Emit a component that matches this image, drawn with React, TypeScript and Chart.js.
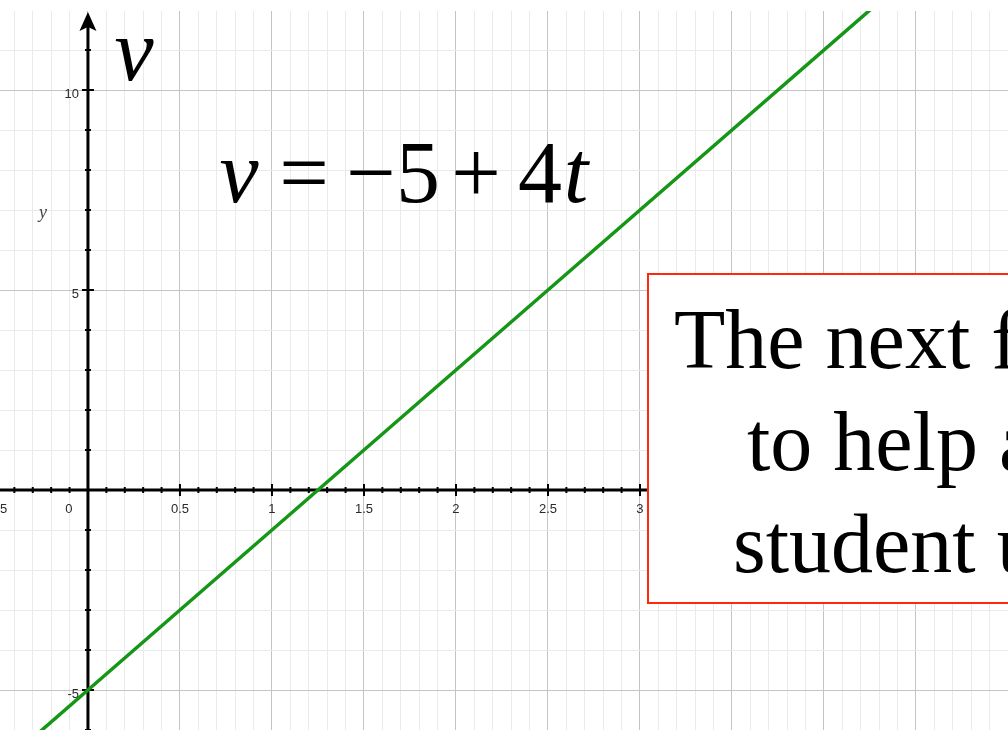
import { useEffect, useRef } from 'react';
import { Chart, registerables } from 'chart.js';

Chart.register(...registerables);

// Visible window of the t–v plane
const X_MIN = -0.478;
const X_MAX = 5.0;
const Y_MIN = -6.0;
const Y_MAX = 11.975;

// v = -5 + 4t, sampled at a few instants
const timeValues = [-0.5, 0, 1.25, 2.5, 4.5];
const velocityValues = [-7, -5, 0, 5, 13];

// Axis labels
const xLabelValues = [-0.5, 0, 0.5, 1, 1.5, 2, 2.5, 3, 3.5, 4, 4.5];
const xLabelTexts = ['-0.5', '0', '0.5', '1', '1.5', '2', '2.5', '3', '3.5', '4', '4.5'];
const yLabelValues = [-5, 5, 10];
const yLabelTexts = ['-5', '5', '10'];

// Graph-paper spacing
const X_MINOR = 0.1;
const X_MAJOR = 0.5;
const Y_MINOR = 1;
const Y_MAJOR = 5;

const noteLines = ['The next f', 'to help a', 'student u'];

const GRID_MINOR = 'rgb(234,234,234)';
const GRID_MAJOR = 'rgb(196,196,196)';
const LINE_GREEN = 'rgb(22,150,22)';
const BOX_RED = 'rgb(255,40,10)';

function stepValues(min: number, max: number, step: number): number[] {
  const out: number[] = [];
  const start = Math.ceil(min / step - 1e-9);
  const end = Math.floor(max / step + 1e-9);
  for (let i = start; i <= end; i++) out.push(Math.round(i * step * 1000) / 1000);
  return out;
}

function isMultiple(v: number, step: number): boolean {
  const r = v / step;
  return Math.abs(r - Math.round(r)) < 1e-6;
}

const overlay = {
  id: 'overlay',
  beforeDatasetsDraw(chart: any) {
    const { ctx, chartArea, scales } = chart;
    const xs = scales.x;
    const ys = scales.y;
    const x0 = xs.getPixelForValue(0);
    const y0 = ys.getPixelForValue(0);
    ctx.save();
    ctx.strokeStyle = '#000';
    ctx.fillStyle = '#000';

    // axes
    ctx.lineWidth = 3;
    ctx.beginPath();
    ctx.moveTo(chartArea.left, y0);
    ctx.lineTo(chartArea.right, y0);
    ctx.stroke();
    ctx.beginPath();
    ctx.moveTo(x0, chartArea.bottom);
    ctx.lineTo(x0, chartArea.top + 14);
    ctx.stroke();

    // arrowhead on the v axis
    const tipY = chartArea.top + 1;
    ctx.beginPath();
    ctx.moveTo(x0, tipY);
    ctx.lineTo(x0 + 8.5, tipY + 19);
    ctx.lineTo(x0, tipY + 15);
    ctx.lineTo(x0 - 8.5, tipY + 19);
    ctx.closePath();
    ctx.fill();

    // tick marks
    ctx.lineWidth = 2;
    for (const v of stepValues(X_MIN, X_MAX, X_MINOR)) {
      if (Math.abs(v) < 1e-9) continue;
      const px = xs.getPixelForValue(v);
      const len = isMultiple(v, X_MAJOR) ? 6 : 3;
      ctx.beginPath();
      ctx.moveTo(px, y0 - len);
      ctx.lineTo(px, y0 + len);
      ctx.stroke();
    }
    for (const v of stepValues(Y_MIN, Y_MAX, Y_MINOR)) {
      if (Math.abs(v) < 1e-9) continue;
      const py = ys.getPixelForValue(v);
      const len = isMultiple(v, Y_MAJOR) ? 6 : 3;
      ctx.beginPath();
      ctx.moveTo(x0 - len, py);
      ctx.lineTo(x0 + len, py);
      ctx.stroke();
    }

    // tick labels
    ctx.fillStyle = '#2a2a2a';
    ctx.font = '13px "Liberation Sans", Arial, sans-serif';
    ctx.textBaseline = 'middle';
    ctx.textAlign = 'center';
    xLabelValues.forEach((v, i) => {
      const px = xs.getPixelForValue(v) - (v === 0 ? 19 : 0);
      ctx.fillText(xLabelTexts[i], px, y0 + 19);
    });
    ctx.textAlign = 'right';
    yLabelValues.forEach((v, i) => {
      ctx.fillText(yLabelTexts[i], x0 - 9, ys.getPixelForValue(v) + 4);
    });

    // axis name
    ctx.fillStyle = '#444';
    ctx.font = 'italic 18px "Liberation Serif", serif';
    ctx.textAlign = 'center';
    ctx.fillText('y', 43, 213);
    ctx.restore();
  },
  afterDraw(chart: any) {
    const { ctx } = chart;
    ctx.save();
    ctx.fillStyle = '#000';
    ctx.textBaseline = 'alphabetic';
    ctx.textAlign = 'center';

    const italic = 'italic 88px "Liberation Serif", "Times New Roman", serif';
    const upright = '88px "Liberation Serif", "Times New Roman", serif';

    // axis title
    ctx.font = italic;
    ctx.fillText('v', 134, 80);

    // equation of the line
    const pieces: [string, boolean, number][] = [
      ['v', true, 239],
      ['=', false, 304],
      ['\u2212', false, 371],
      ['5', false, 418],
      ['+', false, 476],
      ['4', false, 540],
      ['t', true, 576],
    ];
    for (const [s, it, cx] of pieces) {
      ctx.font = it ? italic : upright;
      ctx.fillText(s, cx, 202);
    }

    // note box
    ctx.fillStyle = '#fff';
    ctx.fillRect(648, 274, 420, 329);
    ctx.strokeStyle = BOX_RED;
    ctx.lineWidth = 2;
    ctx.strokeRect(648, 274, 420, 329);
    ctx.fillStyle = '#000';
    ctx.textAlign = 'left';
    ctx.font = '84px "Liberation Serif", "Times New Roman", serif';
    const starts = [674, 747, 733];
    const baselines = [368, 470, 572];
    noteLines.forEach((line, i) => ctx.fillText(line, starts[i], baselines[i]));
    ctx.restore();
  },
};

export default function App() {
  const canvasRef = useRef<HTMLCanvasElement | null>(null);

  useEffect(() => {
    document.body.style.margin = '0';
    const canvas = canvasRef.current;
    if (!canvas) return;
    const points = timeValues.map((t, i) => ({ x: t, y: velocityValues[i] }));

    const chart = new Chart(canvas, {
      type: 'scatter',
      data: {
        datasets: [
          {
            data: points,
            showLine: true,
            borderColor: LINE_GREEN,
            backgroundColor: LINE_GREEN,
            borderWidth: 3.5,
            pointRadius: 0,
            clip: 0,
          } as any,
        ],
      },
      options: {
        animation: false,
        responsive: false,
        devicePixelRatio: 1,
        events: [],
        layout: { padding: { top: 11, left: 0, right: 0, bottom: 0 } },
        plugins: { legend: { display: false }, tooltip: { enabled: false } },
        scales: {
          x: {
            type: 'linear',
            min: X_MIN,
            max: X_MAX,
            bounds: 'data',
            border: { display: false },
            ticks: { display: false },
            grid: {
              drawTicks: false,
              lineWidth: 1,
              color: (c: any) =>
                c.tick && isMultiple(c.tick.value, X_MAJOR) ? GRID_MAJOR : GRID_MINOR,
            },
            afterBuildTicks: (scale: any) => {
              scale.ticks = stepValues(X_MIN, X_MAX, X_MINOR).map((value) => ({ value }));
            },
          },
          y: {
            type: 'linear',
            min: Y_MIN,
            max: Y_MAX,
            bounds: 'data',
            border: { display: false },
            ticks: { display: false },
            grid: {
              drawTicks: false,
              lineWidth: 1,
              color: (c: any) =>
                c.tick && isMultiple(c.tick.value, Y_MAJOR) ? GRID_MAJOR : GRID_MINOR,
            },
            afterBuildTicks: (scale: any) => {
              scale.ticks = stepValues(Y_MIN, Y_MAX, Y_MINOR).map((value) => ({ value }));
            },
          },
        },
      } as any,
      plugins: [overlay],
    });

    return () => chart.destroy();
  }, []);

  return (
    <div
      style={{
        position: 'fixed',
        left: 0,
        top: 0,
        width: 1008,
        height: 730,
        overflow: 'hidden',
        background: '#fff',
      }}
    >
      <canvas ref={canvasRef} width={1008} height={730} style={{ display: 'block' }} />
    </div>
  );
}
